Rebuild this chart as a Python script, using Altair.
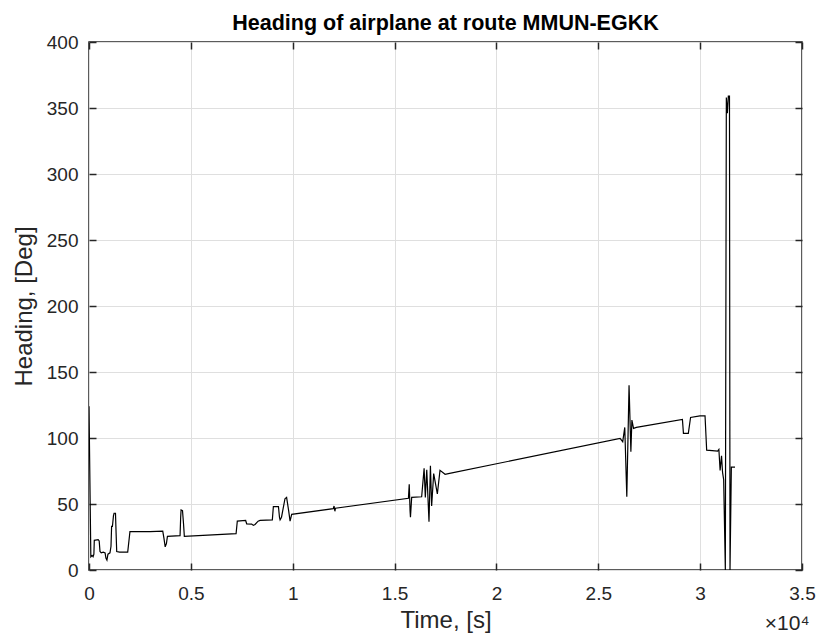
import altair as alt
import pandas as pd

# ---- data (time in seconds, heading in degrees) ----
time_s = [
    0, 90, 150, 200, 240, 260, 450, 500, 540, 600, 700, 790, 830, 880, 930,
    1030, 1080, 1110, 1150, 1200, 1230, 1300, 1330, 1360, 1500, 1900, 2010,
    3000, 3620, 3680, 3740, 3800, 3850, 4470, 4500, 4520, 4590, 4640, 4680,
    7220, 7280, 7690, 7740, 7985, 8067, 8150, 8300, 8400, 9000, 9050, 9300,
    9350, 9380, 9450, 9620, 9700, 9800, 9870, 9950, 11990, 12030, 12070,
    12100, 15680, 15720, 15760, 15780, 15820, 15840, 16330, 16450, 16510,
    16580, 16690, 16760, 16820, 16920, 17100, 17230, 17480, 17640, 26070,
    26200, 26300, 26400, 26510, 26600, 26650, 26730, 26870, 29130, 29180,
    29420, 29530, 29990, 30240, 30320, 30860, 30920, 30980, 31050, 31100,
    31155, 31237, 31286, 31335, 31384, 31440, 31466, 31532, 31713,
]
heading_deg = [
    124, 10, 11, 10, 12, 22.5, 23, 22, 14, 13, 13.5, 13, 9, 7.5, 12,
    13, 18, 33, 33, 41, 43, 43, 28, 14, 13.5, 13.5, 29,
    29, 29.5, 24, 17.5, 20, 25.5, 26, 40, 45.5, 45, 35, 25.5,
    27.5, 37, 37.5, 35, 34.8, 33.8, 34.5, 37, 37.6, 38, 48, 48,
    40, 38, 40, 54, 55, 45, 37, 42.2, 46.5, 48.5, 44.5,
    46.8, 54.3, 65, 45, 40, 50, 55, 55.5, 77, 55,
    76, 36.6, 79, 48.5, 73, 57.6, 75.5, 72.5, 73, 99.7,
    97.2, 108, 55.5, 140, 89.6, 113.6, 107.3, 108, 114.1, 103.5,
    103.5, 115.6, 116.7, 116.8, 90.8, 90, 91.3, 75.4, 86.6, 74,
    68.4, 0, 358, 346, 359, 359, 0, 78, 78,
]

x_ticks = [0, 5000, 10000, 15000, 20000, 25000, 30000, 35000]
y_ticks = [0, 50, 100, 150, 200, 250, 300, 350, 400]

df = pd.DataFrame({"t": time_s, "h": heading_deg, "i": list(range(len(time_s)))})

FONT = "Liberation Sans"
INK = "#262626"
GRID = "#dfdfdf"
W, H = 713, 528

xs = alt.Scale(domain=[0, 35000], nice=False, zero=False)
ys = alt.Scale(domain=[0, 400], nice=False, zero=False)

main = alt.Chart(df).mark_line(color="black", strokeWidth=1.2, clip=True).encode(
    x=alt.X("t:Q", scale=xs, axis=alt.Axis(
        orient="bottom", values=x_ticks, labelExpr="datum.value / 10000",
        ticks=False, tickSize=0, domain=False, grid=True, gridColor=GRID, gridWidth=1,
        labelPadding=14, labelFontSize=19, labelColor=INK, labelFont=FONT,
        labelFlush=False, labelOverlap=False,
        title="Time, [s]", titleFont=FONT, titleFontSize=24, titleFontWeight="normal",
        titleColor=INK, titleX=W / 2, titleY=57, titleAlign="center",
        titleBaseline="alphabetic")),
    y=alt.Y("h:Q", scale=ys, axis=alt.Axis(
        orient="left", values=y_ticks, ticks=False, tickSize=0, domain=False,
        grid=True, gridColor=GRID, gridWidth=1,
        labelPadding=11, labelFontSize=19, labelColor=INK, labelFont=FONT,
        labelFlush=False, labelOverlap=False,
        title="Heading, [Deg]", titleFont=FONT, titleFontSize=24,
        titleFontWeight="normal", titleColor=INK, titleX=-58, titleY=H / 2,
        titleAngle=270, titleAlign="center", titleBaseline="alphabetic")),
    order="i:Q",
)

ghost = alt.Chart(df).mark_line(opacity=0).encode(order="i:Q")

tick_style = dict(tickSize=7, tickWidth=1.5, tickColor=INK, labels=False,
                  domain=False, grid=False)

bottom_left = ghost.encode(
    x=alt.X("t:Q", scale=xs, axis=alt.Axis(
        orient="bottom", offset=-7, values=x_ticks,
        title="×10⁴", titleFont=FONT, titleFontSize=21, titleFontWeight="normal",
        titleColor=INK, titleX=W + 7, titleY=66, titleAlign="right",
        titleBaseline="alphabetic", **tick_style)),
    y=alt.Y("h:Q", scale=ys, axis=alt.Axis(
        orient="left", offset=-7, values=y_ticks, title=None, **tick_style)),
)

top_right = ghost.encode(
    x=alt.X("t:Q", scale=xs, axis=alt.Axis(
        orient="top", offset=-7, values=x_ticks, title=None, **tick_style)),
    y=alt.Y("h:Q", scale=ys, axis=alt.Axis(
        orient="right", offset=-7, values=y_ticks, title=None, **tick_style)),
)

chart = alt.layer(main, bottom_left, top_right).resolve_axis(
    x="independent", y="independent"
).properties(
    width=W, height=H,
    title=alt.TitleParams(
        text="Heading of airplane at route MMUN-EGKK", font=FONT, fontSize=21.5,
        fontWeight="bold", color="black", anchor="middle", baseline="alphabetic",
        offset=5, dy=23),
    autosize=alt.AutoSizeParams(type="none"),
    padding={"left": 89, "top": 42, "right": 17, "bottom": 72},
).configure_view(stroke=INK, strokeWidth=1.5)

chart.save("out.html", embed_options={"renderer": "svg", "actions": False})
